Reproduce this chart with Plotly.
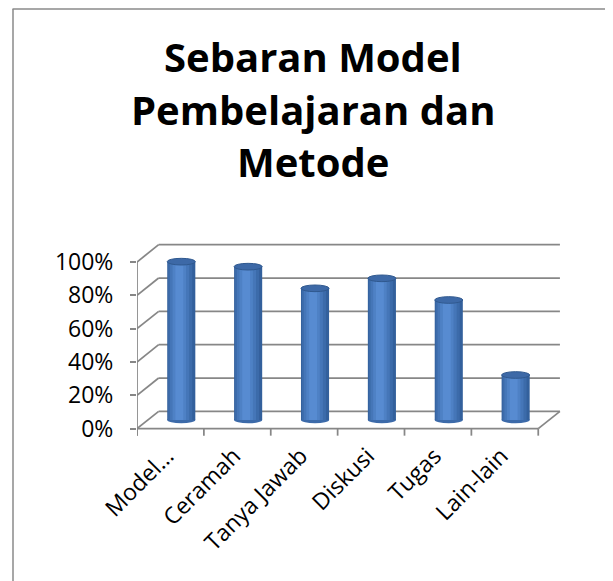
import plotly.graph_objects as go

# ---------------- data ----------------
categories = ["Model…", "Ceramah", "Tanya Jawab", "Diskusi", "Tugas", "Lain-lain"]
values = [0.95, 0.92, 0.79, 0.85, 0.72, 0.27]
y_ticks = [0, 0.2, 0.4, 0.6, 0.8, 1.0]
y_tick_labels = ["0%", "20%", "40%", "60%", "80%", "100%"]
title_lines = ["Sebaran Model", "Pembelajaran dan", "Metode"]

# ---------------- layout geometry ----------------
OFF = 8                        # page body margin
W, H = 605, 573
L, R, T, B = 129, 48, 234, 144
XR = [-0.5, 5.9]
YR = [-0.05, 1.12]
DX, DY = 0.324, 0.104          # depth offset of the back wall (data units)
BAR_W = 0.42
RY = 0.02                      # ellipse half-height (data units)
GRID = "#878787"
FONT = "Open Sans"

pw, ph = W - L - R, H - T - B
def px2x(px):                  # viewport px -> paper x
    return (px - OFF - L) / pw
def px2y(py):                  # viewport px -> paper y
    return (T + ph - (py - OFF)) / ph

fig = go.Figure()

# cylinder body built from overlapping bars (shading layers)
layers = [(1.00, 0.00, "#33609c"),
          (0.86, -0.04, "#3c6baa"),
          (0.68, -0.06, "#4576b8"),
          (0.48, -0.07, "#4e81c5"),
          (0.28, -0.07, "#578bd1")]
xc = [i + DX / 2 for i in range(len(categories))]
for frac, shift, col in layers:
    w = BAR_W * frac
    fig.add_trace(go.Bar(
        x=xc, y=values, base=DY / 2,
        width=w, offset=-w / 2 + shift * BAR_W,
        marker=dict(color=col, line=dict(width=0)),
        hoverinfo="skip", showlegend=False))

shapes = []
line = dict(color=GRID, width=1.75)
for v in y_ticks:
    # back wall gridlines
    shapes.append(dict(type="line", xref="x", yref="y", layer="below",
                       x0=XR[0] + DX, x1=5.5 + DX, y0=v + DY, y1=v + DY, line=line))
    # left wall diagonals
    shapes.append(dict(type="line", xref="x", yref="y", layer="below",
                       x0=XR[0], x1=XR[0] + DX, y0=v, y1=v + DY, line=line))
# front value axis
shapes.append(dict(type="line", xref="x", yref="y", layer="below",
                   x0=XR[0], x1=XR[0], y0=-0.042, y1=1.0, line=line))
# front floor edge and right floor diagonal
shapes.append(dict(type="line", xref="x", yref="y", layer="below",
                   x0=XR[0], x1=5.5, y0=0, y1=0, line=line))
shapes.append(dict(type="line", xref="x", yref="y", layer="below",
                   x0=5.5, x1=5.5 + DX, y0=0, y1=DY, line=line))
# category boundary ticks
for k in range(len(categories) + 1):
    shapes.append(dict(type="line", xref="x", yref="y", layer="below",
                       x0=XR[0] + k, x1=XR[0] + k, y0=0, y1=-0.042, line=line))
# bottom ellipses of the cylinders
for c in xc:
    shapes.append(dict(type="circle", xref="x", yref="y", layer="below",
                       x0=c - BAR_W / 2, x1=c + BAR_W / 2,
                       y0=DY / 2 - RY, y1=DY / 2 + RY,
                       fillcolor="#3c6aa9", line=dict(width=0)))
# top caps
for c, v in zip(xc, values):
    top = v + DY / 2
    shapes.append(dict(type="circle", xref="x", yref="y", layer="above",
                       x0=c - BAR_W / 2, x1=c + BAR_W / 2,
                       y0=top - RY, y1=top + RY,
                       fillcolor="#3d69a7", line=dict(color="#30598f", width=1)))
# chart border (top and left edges visible)
bline = dict(color="#8a8a8a", width=1.5)
shapes.append(dict(type="line", xref="paper", yref="paper",
                   x0=px2x(12.5), x1=px2x(613), y0=px2y(9), y1=px2y(9), line=bline))
shapes.append(dict(type="line", xref="paper", yref="paper",
                   x0=px2x(13), x1=px2x(13), y0=px2y(9), y1=px2y(581), line=bline))

annotations = []
for txt, py in zip(title_lines, [56.5, 109.2, 161.5]):
    annotations.append(dict(text="<b>" + txt + "</b>", xref="paper", yref="paper",
                            x=px2x(313), y=px2y(py), xanchor="center", yanchor="middle",
                            showarrow=False, font=dict(family=FONT, size=40, color="black")))

fig.update_layout(
    width=W, height=H,
    margin=dict(l=L, r=R, t=T, b=B, pad=0),
    paper_bgcolor="white", plot_bgcolor="white",
    barmode="overlay", showlegend=False,
    shapes=shapes, annotations=annotations,
    font=dict(family=FONT, size=23, color="black"),
    xaxis=dict(range=XR, tickvals=[i - 0.05 for i in range(len(categories))],
               ticktext=categories, tickangle=-45, ticks="",
               showgrid=False, zeroline=False, showline=False,
               tickfont=dict(family=FONT, size=23, color="black")),
    yaxis=dict(range=YR, tickvals=y_ticks, ticktext=y_tick_labels,
               ticks="outside", ticklen=6, tickcolor=GRID, tickwidth=1.75,
               ticklabelstandoff=12,
               showgrid=False, zeroline=False, showline=False,
               tickfont=dict(family=FONT, size=23, color="black")),
)

fig.write_html("out.html")
